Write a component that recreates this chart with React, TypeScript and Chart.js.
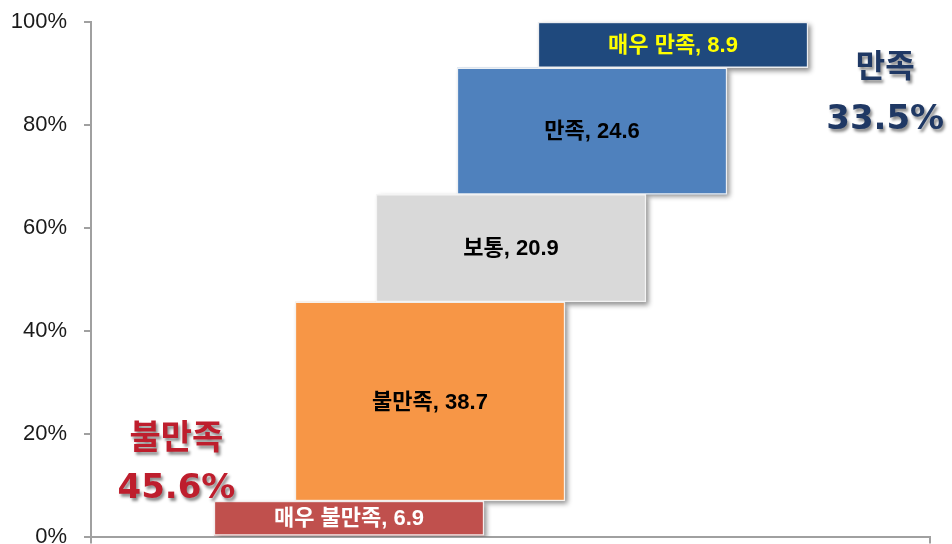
import React, { useEffect, useRef } from 'react';
import { Chart, registerables } from 'chart.js';

Chart.register(...registerables);

// ---- Data ----
const categories = ['매우 불만족', '불만족', '보통', '만족', '매우 만족'];
const values = [6.9, 38.7, 20.9, 24.6, 8.9];
const yTicks = [0, 20, 40, 60, 80, 100];
const summaryNames = ['불만족', '만족'];
const summaryGroups = [[0, 1], [3, 4]];

// ---- Styles ----
const barColors = ['#C0504D', '#F79646', '#D9D9D9', '#4F81BD', '#1F497D'];
const labelColors = ['#FFFFFF', '#000000', '#000000', '#000000', '#FFFF00'];
const summaryColors = ['#BE1E2D', '#1F3864'];
const axisColor = '#A0A0A0';

export default function App() {
  const canvasRef = useRef<HTMLCanvasElement | null>(null);

  useEffect(() => {
    document.body.style.margin = '0';
    const canvas = canvasRef.current;
    if (!canvas) return;

    const starts = values.map((_, i) => values.slice(0, i).reduce((a, b) => a + b, 0));
    const barData = categories.map((_, i) => ({ x: i, y: [starts[i], starts[i] + values[i]] }));

    const shadowPlugin = {
      id: 'barShadow',
      beforeDatasetsDraw(chart: any) {
        const ctx = chart.ctx;
        const area = chart.chartArea;
        const meta = chart.getDatasetMeta(0);
        ctx.save();
        ctx.beginPath();
        ctx.rect(area.left, area.top - 10, area.right - area.left + 20, area.bottom - area.top + 10);
        ctx.clip();
        meta.data.forEach((el: any, i: number) => {
          const { x, y, base, width } = el.getProps(['x', 'y', 'base', 'width'], true);
          const top = Math.min(y, base);
          const h = Math.abs(base - y);
          ctx.shadowColor = 'rgba(0,0,0,0.45)';
          ctx.shadowBlur = 5;
          ctx.shadowOffsetX = 3;
          ctx.shadowOffsetY = 3;
          ctx.fillStyle = barColors[i];
          ctx.fillRect(x - width / 2, top, width, h);
        });
        ctx.restore();
      },
    };

    const labelPlugin = {
      id: 'barLabels',
      afterDatasetsDraw(chart: any) {
        const ctx = chart.ctx;
        const meta = chart.getDatasetMeta(0);
        ctx.save();
        ctx.font = 'bold 22px "Liberation Sans", "Noto Sans CJK KR", sans-serif';
        ctx.textAlign = 'center';
        ctx.textBaseline = 'middle';
        meta.data.forEach((el: any, i: number) => {
          const { x, y, base } = el.getProps(['x', 'y', 'base'], true);
          ctx.fillStyle = labelColors[i];
          ctx.fillText(`${categories[i]}, ${values[i]}`, x, (y + base) / 2 + 1);
        });
        ctx.restore();
      },
    };

    // anchor positions in axis units (x: category index scale, y: percent)
    const summaryAnchors = [
      { x: -2.13, nameY: 19.5, valueY: 9.2, nameSize: 34 },
      { x: 6.62, nameY: 91.6, valueY: 81.0, nameSize: 32 },
    ];

    const summaryPlugin = {
      id: 'summaryText',
      afterDraw(chart: any) {
        const ctx = chart.ctx;
        const xs = chart.scales.x;
        const ys = chart.scales.y;
        ctx.save();
        ctx.textAlign = 'center';
        ctx.textBaseline = 'middle';
        summaryNames.forEach((name, k) => {
          const a = summaryAnchors[k];
          const total = summaryGroups[k].reduce((s, idx) => s + values[idx], 0);
          const px = xs.getPixelForValue(a.x);
          ctx.shadowColor = 'rgba(0,0,0,0.45)';
          ctx.shadowBlur = 3;
          ctx.shadowOffsetX = 2;
          ctx.shadowOffsetY = 3;
          ctx.fillStyle = summaryColors[k];
          ctx.font = `bold ${a.nameSize}px "Noto Sans CJK KR", sans-serif`;
          ctx.fillText(name, px, ys.getPixelForValue(a.nameY));
          ctx.font = 'bold 34px "DejaVu Sans", sans-serif';
          ctx.fillText(`${total.toFixed(1)}%`, px, ys.getPixelForValue(a.valueY));
        });
        ctx.restore();
      },
    };

    const chart = new Chart(canvas, {
      type: 'bar',
      data: {
        datasets: [
          {
            data: barData as any,
            backgroundColor: barColors,
            borderColor: 'rgba(245,245,245,0.95)',
            borderWidth: 1.5,
            borderSkipped: false,
            barThickness: 270,
          },
        ],
      },
      options: {
        animation: false,
        responsive: false,
        devicePixelRatio: 1,
        layout: { padding: { top: 22, right: 22, bottom: 0, left: 0 } },
        plugins: {
          legend: { display: false },
          tooltip: { enabled: false },
        },
        scales: {
          x: {
            type: 'linear',
            offset: false,
            min: -3.185,
            max: 7.173,
            afterBuildTicks: (scale: any) => {
              scale.ticks = [{ value: scale.min }, { value: scale.max }];
            },
            afterFit: (scale: any) => {
              scale.height = 7.5;
              scale.paddingLeft = 0;
              scale.paddingRight = 0;
            },
            ticks: { display: false },
            grid: {
              offset: false,
              drawOnChartArea: false,
              drawTicks: true,
              tickLength: 7,
              color: axisColor,
              lineWidth: 2,
            },
            border: { display: true, color: axisColor, width: 2 },
          },
          y: {
            min: 0,
            max: 100,
            afterBuildTicks: (scale: any) => {
              scale.ticks = yTicks.map((v) => ({ value: v }));
            },
            afterFit: (scale: any) => {
              scale.width = 91;
              scale.paddingTop = 0;
              scale.paddingBottom = 0;
            },
            ticks: {
              callback: (v: any) => `${v}%`,
              font: { family: '"Liberation Sans", Arial, sans-serif', size: 22 },
              color: '#1a1a1a',
              padding: 17,
            },
            grid: {
              drawOnChartArea: false,
              drawTicks: true,
              tickLength: 7,
              color: axisColor,
              lineWidth: 2,
            },
            border: { display: true, color: axisColor, width: 2 },
          },
        },
      },
      plugins: [shadowPlugin, labelPlugin, summaryPlugin],
    });

    return () => {
      chart.destroy();
    };
  }, []);

  return (
    <div style={{ width: 952, height: 544, background: '#ffffff' }}>
      <canvas ref={canvasRef} width={952} height={544} style={{ display: 'block' }} />
    </div>
  );
}
